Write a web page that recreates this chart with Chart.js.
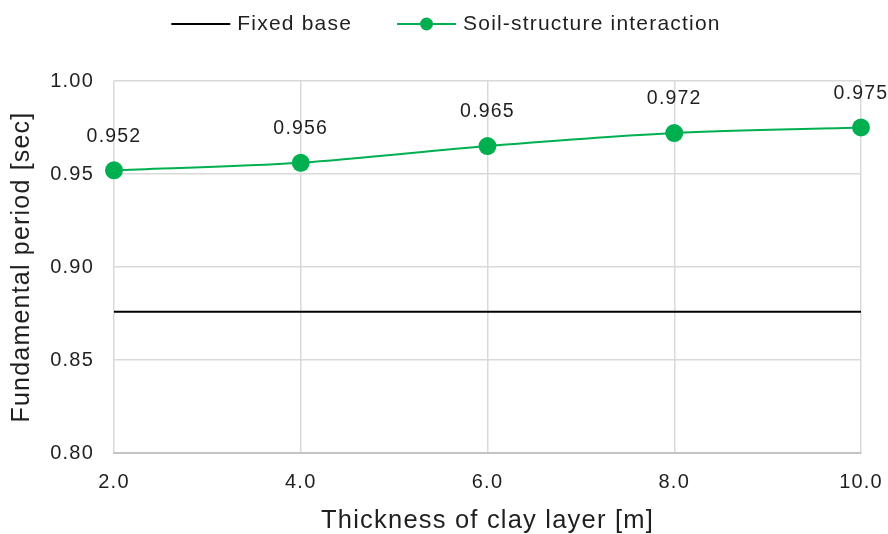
<!DOCTYPE html>
<html>
<head>
<meta charset="utf-8">
<script src="https://cdn.jsdelivr.net/npm/chart.js@4/dist/chart.umd.min.js"></script>
<style>
  html, body { margin: 0; padding: 0; background: #fff; }
  #wrap { width: 888px; height: 534px; }
</style>
</head>
<body>
<div id="wrap"><canvas id="c" width="888" height="534"></canvas></div>
<script>
// Clay layer thickness [m]
const thickness = [2.0, 4.0, 6.0, 8.0, 10.0];
// Fundamental period [sec]
const fixedBase = [0.876, 0.876, 0.876, 0.876, 0.876];
const ssi = [0.952, 0.956, 0.965, 0.972, 0.975];
const seriesNames = ['Fixed base', 'Soil-structure interaction'];

const GREEN = '#00B050';
const FONT = "'Liberation Sans', Arial, sans-serif";
const TEXT = '#1f1f1f';
const SPACING = '1.2px';

// Slightly open letter spacing for every text drawn on the chart
const letterSpacing = {
  id: 'letterSpacing',
  beforeUpdate(chart) { chart.ctx.letterSpacing = SPACING; },
  beforeLayout(chart) { chart.ctx.letterSpacing = SPACING; },
  beforeDraw(chart) { chart.ctx.letterSpacing = SPACING; }
};

// Legend row: line swatches (with a marker for the interaction series)
const lineLegend = {
  id: 'lineLegend',
  afterDraw(chart) {
    const ctx = chart.ctx;
    const items = [
      { text: seriesNames[0], color: '#000000', dot: false },
      { text: seriesNames[1], color: GREEN, dot: true }
    ];
    const lineW = 59, textGap = 7, itemGap = 45, y = 24;
    ctx.save();
    ctx.font = '21px ' + FONT;
    const widths = items.map(it => ctx.measureText(it.text).width);
    const total = items.reduce((s, it, i) => s + lineW + textGap + widths[i], 0) + itemGap * (items.length - 1);
    let x = chart.width / 2 + 2 - total / 2;
    items.forEach((it, i) => {
      ctx.strokeStyle = it.color;
      ctx.lineWidth = 2;
      ctx.beginPath(); ctx.moveTo(x, y); ctx.lineTo(x + lineW, y); ctx.stroke();
      if (it.dot) {
        ctx.fillStyle = it.color;
        ctx.beginPath(); ctx.arc(x + lineW / 2, y, 6.5, 0, Math.PI * 2); ctx.fill();
      }
      ctx.fillStyle = TEXT;
      ctx.textAlign = 'left';
      ctx.textBaseline = 'middle';
      ctx.fillText(it.text, x + lineW + textGap, y);
      x += lineW + textGap + widths[i] + itemGap;
    });
    ctx.restore();
  }
};

// Value labels above the interaction points
const valueLabels = {
  id: 'valueLabels',
  afterDatasetsDraw(chart) {
    const meta = chart.getDatasetMeta(1);
    const ctx = chart.ctx;
    ctx.save();
    ctx.font = '19.5px ' + FONT;
    ctx.fillStyle = TEXT;
    ctx.textAlign = 'center';
    ctx.textBaseline = 'middle';
    meta.data.forEach((pt, i) => {
      ctx.fillText(ssi[i].toFixed(3), pt.x, pt.y - 34);
    });
    ctx.restore();
  }
};

new Chart(document.getElementById('c'), {
  type: 'line',
  data: {
    datasets: [
      {
        label: seriesNames[0],
        data: thickness.map((x, i) => ({ x, y: fixedBase[i] })),
        borderColor: '#000000',
        borderWidth: 2,
        pointRadius: 0,
        pointHoverRadius: 0,
        tension: 0
      },
      {
        label: seriesNames[1],
        data: thickness.map((x, i) => ({ x, y: ssi[i] })),
        borderColor: GREEN,
        backgroundColor: GREEN,
        borderWidth: 2,
        pointRadius: 9,
        pointBackgroundColor: GREEN,
        pointBorderWidth: 0,
        tension: 0.3
      }
    ]
  },
  options: {
    responsive: false,
    animation: false,
    clip: false,
    layout: { padding: { left: 0, right: 27, top: 81, bottom: 0 } },
    plugins: {
      tooltip: { enabled: false },
      legend: { display: false }
    },
    scales: {
      x: {
        type: 'linear',
        min: 2, max: 10,
        afterFit(scale) {
          scale.height = 81;
          scale.paddingLeft = 0;
          scale.paddingRight = 0;
        },
        ticks: {
          stepSize: 2,
          color: TEXT,
          font: { family: FONT, size: 20 },
          padding: 17,
          maxRotation: 0,
          callback: v => Number(v).toFixed(1)
        },
        grid: { color: '#d9d9d9', lineWidth: 1.5, drawTicks: false },
        border: { color: '#c4c4c4', width: 2 },
        title: {
          display: true,
          text: 'Thickness of clay layer [m]',
          color: TEXT,
          font: { family: FONT, size: 25.5 },
          padding: { top: 0, bottom: -2 }
        }
      },
      y: {
        min: 0.80, max: 1.00,
        afterFit(scale) { scale.width = 114; },
        ticks: {
          stepSize: 0.05,
          color: TEXT,
          font: { family: FONT, size: 20 },
          padding: 20,
          callback: v => Number(v).toFixed(2)
        },
        grid: { color: '#d9d9d9', lineWidth: 1.5, drawTicks: false },
        border: { display: false },
        title: {
          display: true,
          text: 'Fundamental period [sec]',
          color: TEXT,
          font: { family: FONT, size: 25 },
          padding: { top: 7, bottom: 0 }
        }
      }
    }
  },
  plugins: [letterSpacing, valueLabels, lineLegend]
});
</script>
</body>
</html>
